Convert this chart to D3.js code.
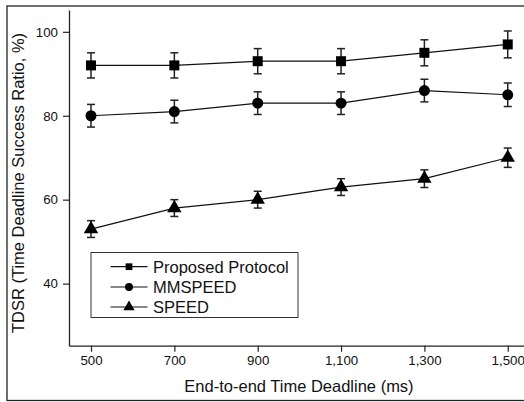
<!DOCTYPE html>
<html><head><meta charset="utf-8">
<script src="https://cdn.jsdelivr.net/npm/d3@7"></script>
<style>body{margin:0;background:#fff}svg{display:block;font-family:"Liberation Sans",Arial,sans-serif}</style>
</head><body><svg id="c" width="524" height="402"></svg>
<script>
const deadlines = [500, 700, 900, 1100, 1300, 1500];
const xTicks = ["500", "700", "900", "1,100", "1,300", "1,500"];
const yTicks = [40, 60, 80, 100];
const seriesNames = ["Proposed Protocol", "MMSPEED", "SPEED"];
const proposed = [92, 92, 93, 93, 95, 97];
const proposedErr = [3, 3, 3, 3, 3.1, 3.2];
const mmspeed = [80, 81, 83, 83, 86, 85];
const mmspeedErr = [2.7, 2.7, 2.7, 2.7, 2.7, 2.8];
const speed = [53, 58, 60, 63, 65, 70];
const speedErr = [2, 2, 2, 2, 2.1, 2.3];
const symbols = ["square", "circle", "triangle"];

const svg = d3.select("#c");
const x = d3.scaleLinear().domain([447.2, 1539]).range([69, 524]);
const y = d3.scaleLinear().domain([25.2, 105.2]).range([345.7, 10]);

// outer frame
svg.append("rect").attr("x", 7).attr("y", 6).attr("width", 530).attr("height", 394.5)
  .attr("fill", "none").attr("stroke", "#222").attr("stroke-width", 1.3);

// axes
const xAxis = d3.axisBottom(x).tickValues(deadlines).tickFormat((d, i) => xTicks[i]).tickSize(6).tickPadding(4).tickSizeOuter(0);
const gx = svg.append("g").attr("transform", "translate(0,345.7)").call(xAxis);
gx.select(".domain").attr("stroke", "#222").attr("stroke-width", 1.3);
gx.selectAll(".tick line").attr("stroke", "#222").attr("stroke-width", 1.2);
gx.selectAll("text").attr("font-size", 13.3).attr("fill", "#111").attr("font-family", "Liberation Sans, Arial, sans-serif");

const yAxis = d3.axisLeft(y).tickValues(yTicks).tickSize(6).tickPadding(5).tickSizeOuter(0);
const gy = svg.append("g").attr("transform", "translate(69,0)").call(yAxis);
gy.select(".domain").attr("stroke", "#222").attr("stroke-width", 1.3);
gy.selectAll(".tick line").attr("stroke", "#222").attr("stroke-width", 1.2);
gy.selectAll("text").attr("font-size", 13.3).attr("fill", "#111").attr("font-family", "Liberation Sans, Arial, sans-serif");

// axis titles
svg.append("text").attr("x", 299).attr("y", 392).attr("text-anchor", "middle")
  .attr("font-size", 16.5).attr("fill", "#111").text("End-to-end Time Deadline (ms)");
svg.append("text").attr("transform", "translate(24,183) rotate(-90)").attr("text-anchor", "middle")
  .attr("font-size", 16.5).attr("fill", "#111").text("TDSR (Time Deadline Success Ratio, %)");

const data = [
  {vals: proposed, err: proposedErr},
  {vals: mmspeed, err: mmspeedErr},
  {vals: speed, err: speedErr}
];
const symType = {square: d3.symbolSquare, circle: d3.symbolCircle, triangle: d3.symbolTriangle};
const symSize = {square: 100, circle: 95, triangle: 90};
const line = d3.line().x(d => x(d[0])).y(d => y(d[1]));

data.forEach((s, si) => {
  const pts = deadlines.map((d, i) => [d, s.vals[i], s.err[i]]);
  const g = svg.append("g");
  g.append("path").attr("d", line(pts)).attr("fill", "none").attr("stroke", "#111").attr("stroke-width", 1.2);
  pts.forEach(p => {
    const cx = x(p[0]), yt = y(p[1] + p[2]), yb = y(p[1] - p[2]);
    g.append("line").attr("x1", cx).attr("x2", cx).attr("y1", yt).attr("y2", yb).attr("stroke", "#222").attr("stroke-width", 1.5);
    [yt, yb].forEach(yy => g.append("line").attr("x1", cx - 4).attr("x2", cx + 4).attr("y1", yy).attr("y2", yy).attr("stroke", "#222").attr("stroke-width", 1.5));
    const sym = symbols[si];
    g.append("path").attr("d", d3.symbol().type(symType[sym]).size(symSize[sym])())
      .attr("transform", `translate(${cx},${y(p[1])})`).attr("fill", "#000");
  });
});

// legend
const lg = svg.append("g");
lg.append("rect").attr("x", 91).attr("y", 252.5).attr("width", 207).attr("height", 65)
  .attr("fill", "#fff").attr("stroke", "#333").attr("stroke-width", 1);
const legY = [266.7, 287, 307];
const legSize = {square: 45, circle: 50, triangle: 55};
seriesNames.forEach((n, i) => {
  const yy = legY[i];
  lg.append("line").attr("x1", 110.5).attr("x2", 147.5).attr("y1", yy).attr("y2", yy).attr("stroke", "#111").attr("stroke-width", 1.2);
  const sym = symbols[i];
  lg.append("path").attr("d", d3.symbol().type(symType[sym]).size(legSize[sym])())
    .attr("transform", `translate(129,${yy})`).attr("fill", "#000");
  lg.append("text").attr("x", 153).attr("y", yy + 6).attr("font-size", 16.5).attr("fill", "#111").text(n);
});
</script></body></html>
